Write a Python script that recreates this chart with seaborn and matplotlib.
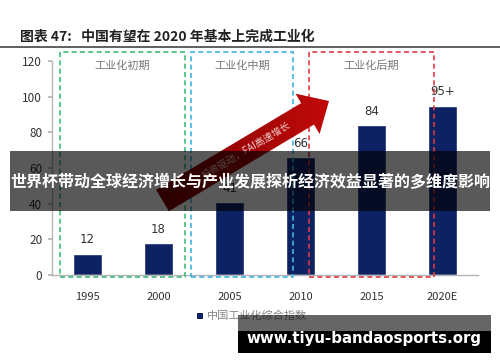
import numpy as np
import pandas as pd
import matplotlib
matplotlib.use("Agg")
import matplotlib.pyplot as plt
import seaborn as sns
from matplotlib.patches import Rectangle, Polygon

years = ["1995", "2000", "2005", "2010", "2015", "2020E"]
values = [12, 18, 41, 66, 84, 95]
value_labels = ["12", "18", "41", "66", "84", "95+"]
stage_names = ["工业化初期", "工业化中期", "工业化后期"]
series_name = "中国工业化综合指数"
title = "图表 47:   中国有望在 2020 年基本上完成工业化"
arrow_text = "投资驱动，FAI高速增长"
overlay_text = "世界杯带动全球经济增长与产业发展探析经济效益显著的多维度影响"
watermark = "www.tiyu-bandaosports.org"

sns.set_theme(style="white")
plt.rcParams['font.family'] = ['Noto Sans CJK SC', 'DejaVu Sans']

W, H = 500, 362
fig = plt.figure(figsize=(W / 100, H / 100), dpi=100)


def fx(x):
    return x / W


def fy(y):
    return 1 - y / H


ax = fig.add_axes([fx(52), fy(275), fx(478) - fx(52), fy(61) - fy(275)])
df = pd.DataFrame({"year": years, "value": values})
sns.barplot(data=df, x="year", y="value", color="#0c2262", width=0.4,
            saturation=1, ax=ax, zorder=2)
ax.set_xlim(-0.5, 5.5)
ax.set_ylim(0, 120)
ax.set_yticks(range(0, 121, 20))
ax.set_xlabel("")
ax.set_ylabel("")
for s in ["top", "right"]:
    ax.spines[s].set_visible(False)
for s in ["left", "bottom"]:
    ax.spines[s].set_color("#b5b5b5")
    ax.spines[s].set_linewidth(1.0)
ax.tick_params(axis="y", which="both", left=True, length=3, color="#b5b5b5",
               labelsize=8.5, labelcolor="#333333", pad=4)
ax.tick_params(axis="x", bottom=False, labelsize=8, labelcolor="#333333", pad=6)

for i, (v, lab) in enumerate(zip(values, value_labels)):
    ax.text(i, v + 4, lab, ha="center", va="bottom", fontsize=8.5, color="#333333",
            family=['DejaVu Sans'])

# dashed stage boxes
boxes = [(-0.387, 1.373, "#3dbb7d"), (1.458, 2.894, "#3fb4e0"), (3.12, 4.88, "#e23a44")]
for (x0, x1, c), name in zip(boxes, stage_names):
    r = Rectangle((x0, -1.1), x1 - x0, 126, fill=False, edgecolor=c,
                  linestyle=(0, (3, 2)), linewidth=1.2, clip_on=False, zorder=3)
    ax.add_patch(r)
    ax.text((x0 + x1) / 2, 117.5, name, ha="center", va="center", fontsize=8,
            color="#777777")

# overlay axes in pixel coordinates (y down)
ov = fig.add_axes([0, 0, 1, 1])
ov.set_xlim(0, W)
ov.set_ylim(H, 0)
ov.axis("off")
ov.patch.set_alpha(0)

# title and rule
ov.text(20, 37, title, fontsize=10, fontweight="bold", color="#222222",
        ha="left", va="center")
ov.plot([0, W], [46.5, 46.5], color="#444444", lw=1.2)

# big red arrow with gradient
tail = np.array([162.5, 200.5])
tip = np.array([329.0, 101.0])
d = tip - tail
L = np.hypot(*d)
u = d / L
n = np.array([-u[1], u[0]])
shaft_w, head_w, head_l = 25, 47, 25
hb = tip - u * head_l
pts = [tail + n * shaft_w / 2, hb + n * shaft_w / 2, hb + n * head_w / 2, tip,
       hb - n * head_w / 2, hb - n * shaft_w / 2, tail - n * shaft_w / 2]
poly = Polygon(pts, closed=True, facecolor="none", edgecolor="none")
ov.add_patch(poly)
xs = np.linspace(0, 1, 256)
grad = np.array([xs])
from matplotlib.colors import LinearSegmentedColormap
cmap = LinearSegmentedColormap.from_list("arr", ["#7a0000", "#c40a0a"])
im = ov.imshow(grad, extent=[150, 335, 220, 85], cmap=cmap, aspect="auto",
               interpolation="bilinear", zorder=5)
im.set_clip_path(poly)
ang = np.degrees(np.arctan2(-d[1], d[0]))
mid = tail + u * (L * 0.5)
ov.text(mid[0], mid[1], arrow_text, rotation=ang, rotation_mode="anchor",
        ha="center", va="center", fontsize=7, color="#f3d0d0", zorder=6)

# legend
ov.add_patch(Rectangle((197, 313), 6, 6, facecolor="#0c2262", edgecolor="none"))
ov.text(207, 316, series_name, fontsize=8, color="#888888", ha="left", va="center")

# overlay band
ov.add_patch(Rectangle((10, 151), 480, 60, facecolor="black", alpha=0.65,
                       edgecolor="none", zorder=10))
ov.text(250, 182, overlay_text, fontsize=11.5, fontweight="bold", color="white",
        ha="center", va="center", zorder=11)

# watermark
ov.add_patch(Rectangle((238, 315), 253, 16, facecolor="black", alpha=0.6,
                       edgecolor="none", zorder=10))
ov.add_patch(Rectangle((238, 331), 253, 22, facecolor="black", edgecolor="none", zorder=10))
ov.text(364, 338, watermark, fontsize=10.8, fontweight="bold", color="white",
        ha="center", va="center", zorder=11, family=['DejaVu Sans'])

fig.savefig("out.png", dpi=100)
